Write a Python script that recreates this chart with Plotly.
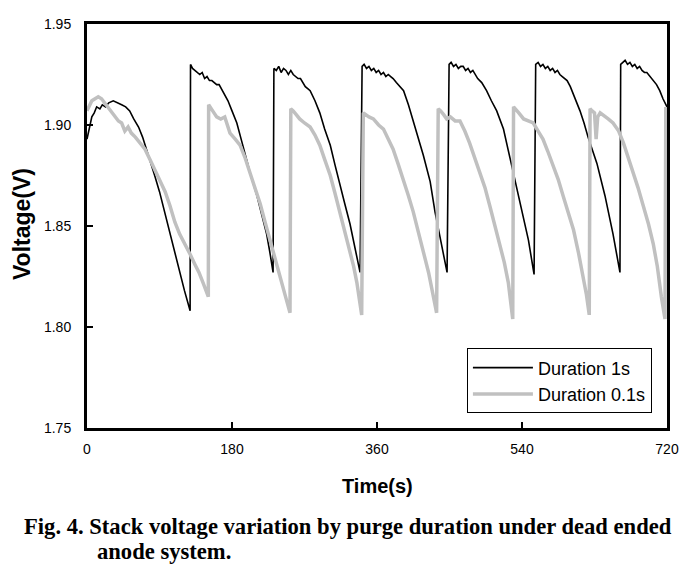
import plotly.graph_objects as go

# ---- Duration 1s (black) : time (s), voltage (V), read per purge cycle ----
time_1s = [
    0, 1.6, 4, 6, 9, 12, 16, 19, 23, 27, 32.6, 37, 43, 48, 53, 58, 64, 69, 74, 79, 84, 90, 95, 100, 105, 110, 115, 121, 128,
    128.5, 131, 134, 137, 140, 143, 146, 149, 152, 155, 158, 161, 164, 167, 171, 175, 180, 186, 192, 198, 204, 211, 217, 223, 227, 231,
    232, 235, 238, 241, 244, 247, 250, 253, 256, 259, 262, 265, 268, 271, 274, 277, 283, 289, 295, 302, 308, 314, 320, 326.5, 333, 339,
    341.5, 344, 347, 350, 353, 356, 359, 362, 365, 368, 371, 374, 377, 380, 384, 388, 393, 399, 405, 411, 417.5, 426, 432, 440, 447,
    449.5, 452, 455, 458, 461, 464, 467, 470, 473, 476, 479, 482, 485, 490, 496, 502, 508.6, 517, 527, 537.5, 548, 555,
    557, 560, 563, 566, 569, 572, 575, 578, 581, 584, 587, 590, 593, 596, 600, 606, 612, 617, 622, 633, 643, 653, 661.6,
    662.5, 665, 668, 671, 674, 677, 680, 683, 686, 689, 692, 695, 699, 703, 707, 711, 715, 720,
]
volt_1s = [
    1.893, 1.896, 1.901, 1.904, 1.906, 1.909, 1.908, 1.910, 1.909, 1.911, 1.912, 1.911, 1.910, 1.909, 1.907, 1.903, 1.899, 1.894, 1.888, 1.882, 1.875, 1.867, 1.859, 1.851, 1.843, 1.835, 1.827, 1.818, 1.808,
    1.930, 1.928, 1.927, 1.926, 1.925, 1.926, 1.923, 1.924, 1.922, 1.922, 1.921, 1.920, 1.920, 1.918, 1.915, 1.912, 1.907, 1.901, 1.892, 1.883, 1.874, 1.865, 1.855, 1.846, 1.837, 1.827,
    1.928, 1.927, 1.929, 1.926, 1.928, 1.927, 1.925, 1.927, 1.925, 1.924, 1.923, 1.923, 1.921, 1.919, 1.918, 1.917, 1.912, 1.906, 1.898, 1.890, 1.880, 1.870, 1.861, 1.851, 1.839, 1.827,
    1.929, 1.930, 1.928, 1.929, 1.927, 1.928, 1.926, 1.927, 1.925, 1.926, 1.924, 1.925, 1.924, 1.923, 1.921, 1.919, 1.917, 1.910, 1.902, 1.894, 1.885, 1.872, 1.857, 1.841, 1.827,
    1.930, 1.931, 1.929, 1.930, 1.928, 1.929, 1.929, 1.927, 1.928, 1.926, 1.927, 1.925, 1.923, 1.921, 1.917, 1.912, 1.907, 1.898, 1.880, 1.862, 1.843, 1.826,
    1.930, 1.931, 1.929, 1.930, 1.928, 1.929, 1.927, 1.928, 1.926, 1.927, 1.925, 1.924, 1.923, 1.922, 1.919, 1.913, 1.907, 1.901, 1.894, 1.881, 1.865, 1.846, 1.827,
    1.930, 1.931, 1.932, 1.930, 1.931, 1.929, 1.930, 1.928, 1.929, 1.927, 1.926, 1.926, 1.924, 1.922, 1.920, 1.917, 1.913, 1.909,
]

# ---- Duration 0.1s (grey) ----
time_01s = [
    0, 3, 6, 10, 14, 18, 22, 26, 31, 35, 39, 43, 47, 51, 55, 60, 66, 72, 78, 84, 90, 97, 103, 109, 115, 122, 128, 134, 139, 144, 148, 150.6,
    151, 153, 156, 161, 166, 171, 177.5, 184, 190, 196, 202, 208, 215, 221, 227, 233, 240, 246, 252,
    253, 256, 260, 264, 270, 277, 283, 289, 295, 302, 308, 314, 320, 326.5, 331, 335, 338, 341,
    343, 346, 350, 355.5, 362, 368, 374, 380, 386, 393, 399, 405, 411, 417.5, 424, 430, 434,
    436, 439, 443, 446.5, 451, 457, 463, 469, 475, 481, 488, 494, 500, 506, 513, 518, 523, 526, 528.5,
    529.5, 532, 536, 542, 548, 554, 560, 566, 572, 579, 585, 591, 597, 604, 610, 616, 620, 623.5,
    624.5, 627, 630, 632, 634, 637, 641, 647, 653, 660, 666, 672, 678, 684, 690.5, 697, 703, 708, 713, 717.5, 718.5, 720,
]
volt_01s = [
    1.907, 1.910, 1.912, 1.913, 1.914, 1.913, 1.911, 1.909, 1.906, 1.904, 1.902, 1.901, 1.897, 1.899, 1.896, 1.894, 1.891, 1.888, 1.883, 1.878, 1.873, 1.867, 1.860, 1.852, 1.846, 1.841, 1.836, 1.831, 1.827, 1.822, 1.818, 1.815,
    1.910, 1.909, 1.907, 1.904, 1.903, 1.904, 1.896, 1.893, 1.890, 1.884, 1.877, 1.869, 1.861, 1.852, 1.843, 1.834, 1.825, 1.816, 1.807,
    1.908, 1.907, 1.905, 1.903, 1.901, 1.899, 1.895, 1.890, 1.883, 1.875, 1.866, 1.857, 1.848, 1.838, 1.830, 1.822, 1.815, 1.806,
    1.906, 1.905, 1.904, 1.903, 1.900, 1.898, 1.893, 1.888, 1.881, 1.873, 1.865, 1.857, 1.848, 1.838, 1.827, 1.815, 1.807,
    1.908, 1.907, 1.905, 1.903, 1.904, 1.902, 1.902, 1.897, 1.891, 1.884, 1.877, 1.869, 1.860, 1.851, 1.841, 1.832, 1.822, 1.812, 1.804,
    1.909, 1.908, 1.906, 1.903, 1.902, 1.901, 1.897, 1.893, 1.887, 1.880, 1.873, 1.865, 1.857, 1.848, 1.837, 1.825, 1.816, 1.806,
    1.908, 1.907, 1.906, 1.893, 1.904, 1.906, 1.905, 1.903, 1.901, 1.897, 1.891, 1.884, 1.877, 1.869, 1.860, 1.851, 1.841, 1.830, 1.815, 1.804, 1.908, 1.908,
]

x_ticks = [0, 180, 360, 540, 720]
y_ticks = [1.75, 1.80, 1.85, 1.90, 1.95]
series_names = ["Duration 1s", "Duration 0.1s"]

assert len(time_1s) == len(volt_1s)
assert len(time_01s) == len(volt_01s)

fig = go.Figure()
fig.add_trace(go.Scatter(x=time_1s, y=volt_1s, mode="lines", name=series_names[0],
                         line=dict(color="black", width=1.6)))
fig.add_trace(go.Scatter(x=time_01s, y=volt_01s, mode="lines", name=series_names[1],
                         line=dict(color="#c0c0c0", width=3.5)))

font_sans = "Liberation Sans, Arial, sans-serif"
font_serif = "Liberation Serif, Times New Roman, serif"

# The page body adds an 8px margin, so the figure is sized 8px smaller.
fig.update_layout(
    width=691, height=561,
    margin=dict(l=79, r=32, t=8, b=141),
    paper_bgcolor="white", plot_bgcolor="white",
    font=dict(family=font_sans, color="black", size=13),
    showlegend=True,
    legend=dict(x=0.974, y=0.036, xanchor="right", yanchor="bottom",
                bordercolor="black", borderwidth=1, bgcolor="white",
                font=dict(family=font_sans, size=18, color="black"),
                tracegroupgap=0, itemwidth=60),
    xaxis=dict(range=[0, 720], tickvals=x_ticks, ticktext=[str(v) for v in x_ticks],
               ticks="inside", ticklen=6, tickwidth=1.5, tickcolor="black",
               showline=True, linecolor="black", linewidth=3, mirror=True,
               showgrid=False, zeroline=False, ticklabelstandoff=6,
               tickfont=dict(size=14, family=font_sans)),
    yaxis=dict(range=[1.75, 1.95], tickvals=y_ticks, ticktext=[f"{v:.2f}" for v in y_ticks],
               ticks="inside", ticklen=6, tickwidth=1.5, tickcolor="black",
               showline=True, linecolor="black", linewidth=3, mirror=True,
               showgrid=False, zeroline=False, ticklabelstandoff=10,
               tickfont=dict(size=14, family=font_sans)),
    annotations=[
        dict(text="<b>Voltage(V)</b>", xref="paper", yref="paper", x=-0.112, y=0.505,
             xanchor="center", yanchor="middle", textangle=-90, showarrow=False,
             font=dict(size=23, family=font_sans)),
        dict(text="<b>Time(s)</b>", xref="paper", yref="paper", x=0.5, y=-0.143,
             xanchor="center", yanchor="middle", showarrow=False,
             font=dict(size=20, family=font_sans)),
        dict(text="<b>Fig. 4. Stack voltage variation by purge duration under dead ended</b>",
             xref="paper", yref="paper", x=-0.112, y=-0.243, xanchor="left", yanchor="middle",
             showarrow=False, font=dict(size=22.6, family=font_serif)),
        dict(text="<b>anode system.</b>",
             xref="paper", yref="paper", x=0.014, y=-0.305, xanchor="left", yanchor="middle",
             showarrow=False, font=dict(size=22.6, family=font_serif)),
    ],
)

fig.write_html("out.html")
